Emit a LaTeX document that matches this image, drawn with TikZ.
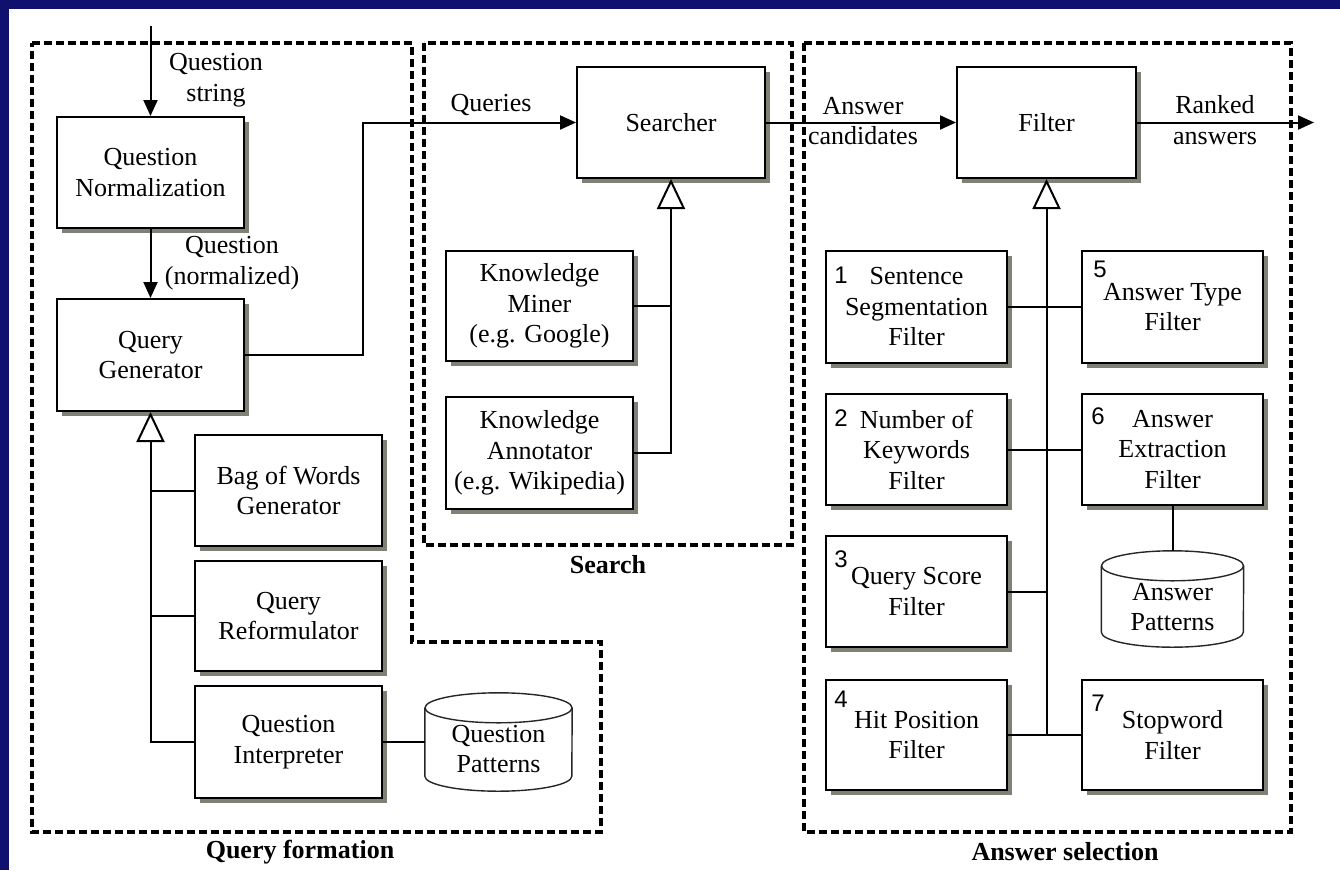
\documentclass[tikz,border=0pt]{standalone}
\usepackage{fontspec}
\setmainfont{Liberation Serif}
\newfontfamily\numfont{Liberation Sans}
\usetikzlibrary{arrows.meta,shadows}
\definecolor{slideblue}{RGB}{16,16,110}
\definecolor{shadowgray}{RGB}{128,128,118}
\newcommand\drawcyl[3]{%
  \draw[cylline,fill=white] ([yshift=-#3pt]#1.north west) -- ([yshift=#3pt]#1.south west)
     arc[start angle=180,end angle=360,x radius=#2pt,y radius=#3pt]
     -- ([yshift=-#3pt]#1.north east);
  \draw[cylline,fill=white] ([yshift=-#3pt]#1.north) ellipse[x radius=#2pt,y radius=#3pt];
}
\begin{document}
\begin{tikzpicture}[x=1pt,y=-1pt,
  txt/.style={font=\fontsize{26}{30.5}\selectfont, align=center, inner sep=0pt},
  box/.style={txt, draw, line width=2pt, fill=white, minimum width=187pt, minimum height=111pt,
     drop shadow={shadow xshift=5pt, shadow yshift=-5pt, opacity=1, fill=shadowgray, draw=none}},
  fbox/.style={box, minimum width=181pt},
  num/.style={font=\numfont\fontsize{24}{28}\selectfont, inner sep=0pt},
  lbl/.style={txt},
  grplabel/.style={font=\bfseries\fontsize{26}{30}\selectfont, inner sep=0pt},
  grp/.style={line width=3.2pt, dash pattern=on 8pt off 4pt},
  conn/.style={line width=2pt},
  arr/.style={conn, -{Triangle[length=16pt,width=14pt]}},
  inh/.style={conn, -{Triangle[open,length=30pt,width=28pt]}},
  cylline/.style={line width=1.4pt, draw=black!85},
  cylbox/.style={inner sep=0pt}
]
\useasboundingbox (0,0) rectangle (1340,870);
\fill[slideblue] (0,0) rectangle (1340,870);
\fill[white] (9,9) rectangle (1340,870);

% group borders
\draw[grp] (32,43) -- (412,43) -- (412,642) -- (601,642) -- (601,832) -- (32,832) -- cycle;
\draw[grp] (424,43) rectangle (792,545);
\draw[grp] (804,43) rectangle (1291,832);
\node[grplabel] (lqf) at (300,852) {Query formation};
\node[grplabel] (lsr) at (608,565) {Search};
\node[grplabel] (las) at (1065,852) {Answer selection};

% query formation
\node[box] (qn) at (150.5,172.5) {Question\\Normalization};
\node[box, minimum height=112pt] (qg) at (150.5,355) {Query\\Generator};
\node[box] (bow) at (288.5,490.5) {Bag of Words\\Generator};
\node[box, minimum height=110pt] (qr) at (288.5,616) {Query\\Reformulator};
\node[box, minimum height=112pt] (qi) at (288.5,742) {Question\\Interpreter};
\node[cylbox, minimum width=147pt, minimum height=98pt] (qp) at (498.5,742) {};
\drawcyl{qp}{73.5}{15}
\node[lbl] (qpt) at (498.5,749) {Question\\Patterns};

\coordinate (inp) at (150.5,26);
\draw[arr] (inp) -- (qn.north);
\node[lbl] (lqs) at (216,80) {Question\\string};
\draw[arr] (qn.south) -- (qg.north);
\node[lbl] (lqnorm) at (232,263) {Question\\(normalized)};
\draw[inh] (qi.west) -| (qg.south);
\draw[conn] (bow.west) -- (bow.west -| qg.south);
\draw[conn] (qr.west) -- (qr.west -| qg.south);
\draw[conn] (qi.east) -- (qp.west);

% search
\node[box, minimum width=188pt] (srch) at (671,122.5) {Searcher};
\node[box, minimum height=110pt] (km) at (539.5,306) {Knowledge\\Miner\\(e.g. Google)};
\node[box, minimum height=112pt] (ka) at (539.5,453) {Knowledge\\Annotator\\(e.g. Wikipedia)};
\draw[arr] (qg.east) -- ++(118,0) |- (srch.west);
\node[lbl] (lq) at (491,105) {Queries};
\draw[inh] (ka.east) -| (srch.south);
\draw[conn] (km.east) -- (km.east -| srch.south);

% answer selection
\node[box, minimum width=179pt] (filt) at (1046.5,122.5) {Filter};
\draw[arr] (srch.east) -- (filt.west);
\node[lbl] (lac) at (863,121) {Answer\\candidates};
\coordinate (outp) at (1314,122.5);
\draw[arr] (filt.east) -- (outp);
\node[lbl] (lra) at (1215,120) {Ranked\\answers};

\node[fbox, minimum height=112pt] (f1) at (916.5,307) {Sentence\\Segmentation\\Filter};
\node[fbox, minimum height=112pt] (f5) at (1172.5,307) {Answer Type\\Filter};
\node[fbox] (f2) at (916.5,449.5) {Number of\\Keywords\\Filter};
\node[fbox] (f6) at (1172.5,449.5) {Answer\\Extraction\\Filter};
\node[fbox] (f3) at (916.5,591.5) {Query Score\\Filter};
\node[fbox, minimum height=110pt] (f4) at (916.5,735) {Hit Position\\Filter};
\node[fbox, minimum height=110pt] (f7) at (1172.5,735) {Stopword\\Filter};
\node[cylbox, minimum width=142pt, minimum height=96pt] (ap) at (1172.5,599) {};
\drawcyl{ap}{71}{15}
\node[lbl] (apt) at (1172.5,607) {Answer\\Patterns};

\node[num] (n1) at (841,275) {1};
\node[num] (n5) at (1100,269) {5};
\node[num] (n2) at (841,418) {2};
\node[num] (n6) at (1098,416) {6};
\node[num] (n3) at (841,559) {3};
\node[num] (n4) at (841,699) {4};
\node[num] (n7) at (1098,703) {7};

\draw[inh] (f4.east) -| (filt.south);
\draw[conn] (f7.west) -- (f7.west -| filt.south);
\draw[conn] (f1.east) -- (f5.west);
\draw[conn] (f2.east) -- (f6.west);
\draw[conn] (f3.east) -- (f3.east -| filt.south);
\draw[conn] (f6.south) -- (ap.north);
\end{tikzpicture}
\end{document}
